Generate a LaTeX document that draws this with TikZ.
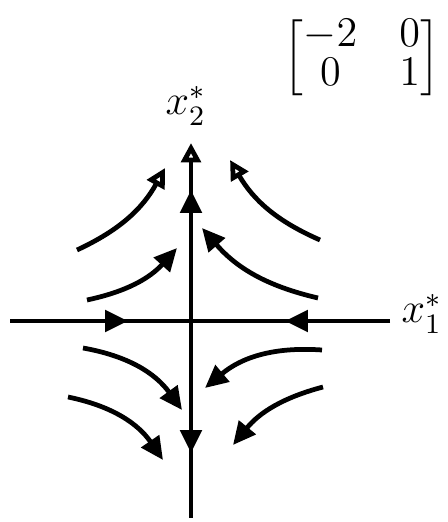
\documentclass[tikz,border=0pt]{standalone}
\usepackage{amsmath}
\usetikzlibrary{arrows.meta}

\begin{document}
\begin{tikzpicture}[x=0.01cm, y=-0.01cm,
    axis/.style={line width=1.35pt},
    flow/.style={line width=1.35pt, -{Triangle[length=6.5pt,width=6pt]}},
    openflow/.style={line width=1.35pt, -{Triangle[open,length=5.5pt,width=5.5pt]}},
    lbl/.style={font=\large, inner sep=0pt}
]
    \useasboundingbox (0,0) rectangle (447,522);

    % axes
    \coordinate (origin) at (191,321);
    \coordinate (west) at (10,321);
    \coordinate (east) at (390,321);
    \coordinate (south) at (191,518);
    \coordinate (north) at (191,143);
    \coordinate (tipW) at (128,321);
    \coordinate (tipE) at (285,321);
    \coordinate (tipN) at (191,190);
    \coordinate (tipS) at (191,453);

    \draw[axis] (west) -- (east);
    \draw[axis] (origin) -- (south);
    \draw[openflow] (origin) -- (north);
    \draw[flow] (west) -- (tipW);
    \draw[flow] (east) -- (tipE);
    \draw[flow] (origin) -- (tipN);
    \draw[flow] (origin) -- (tipS);

    \node[lbl, anchor=base west] (xtwo) at (165,115) {$x_2^*$};
    \node[lbl, anchor=base west] (xone) at (401,323) {$x_1^*$};
    \node[font=\large, inner sep=0pt] (mat) at (362,58)
        {\renewcommand{\arraystretch}{0.78}\setlength{\arraycolsep}{6pt}$\begin{bmatrix}-2 & 0\\ 0 & 1\end{bmatrix}$};

    % trajectories
    \coordinate (ulA) at (77,250);   \coordinate (ulAt) at (165,168);
    \coordinate (ulB) at (87,300);   \coordinate (ulBt) at (177,248);
    \coordinate (urA) at (320,240);  \coordinate (urAt) at (230,160);
    \coordinate (urB) at (318,298);  \coordinate (urBt) at (202,228);
    \coordinate (llA) at (83,348);   \coordinate (llAt) at (182,410);
    \coordinate (llB) at (68,397);   \coordinate (llBt) at (163,460);
    \coordinate (lrA) at (322,350);  \coordinate (lrAt) at (205,388);
    \coordinate (lrB) at (323,387);  \coordinate (lrBt) at (233,445);

    \draw[openflow] (ulA) to[bend right=18] (ulAt);
    \draw[flow] (ulB) to[bend right=18] (ulBt);
    \draw[openflow] (urA) to[bend left=18] (urAt);
    \draw[flow] (urB) to[bend left=18] (urBt);
    \draw[flow] (llA) to[bend left=22] (llAt);
    \draw[flow] (llB) to[bend left=22] (llBt);
    \draw[flow] (lrA) to[bend right=22] (lrAt);
    \draw[flow] (lrB) to[bend right=18] (lrBt);
\end{tikzpicture}
\end{document}
